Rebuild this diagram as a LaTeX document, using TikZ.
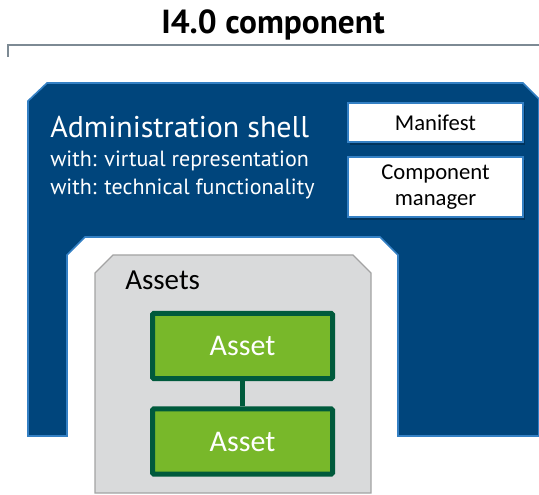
\documentclass[tikz,border=0pt]{standalone}
\usepackage{fontspec}
\setmainfont{PT Sans}
\newfontfamily\carl{Carlito}
\definecolor{shellblue}{RGB}{0,69,124}
\definecolor{shelledge}{RGB}{52,128,196}
\definecolor{brackgray}{RGB}{125,138,148}
\definecolor{assetfill}{RGB}{120,184,42}
\definecolor{assetedge}{RGB}{0,90,60}
\definecolor{boxgray}{RGB}{217,218,219}
\definecolor{boxedge}{RGB}{163,163,163}
\begin{document}
\begin{tikzpicture}[x=0.75pt,y=-0.75pt,
  txt/.style={inner sep=0pt,anchor=base west},
  infobox/.style={draw=shelledge,line width=1.2pt,fill=white,minimum width=131.25pt,inner sep=0pt,font=\carl\fontsize{17}{19}\selectfont,align=center},
  assetbox/.style={draw=assetedge,line width=3.75pt,fill=assetfill,rounded corners=1pt,minimum width=135pt,minimum height=49pt,inner sep=0pt,text=white,font=\carl\fontsize{22.5}{24}\selectfont},
  link/.style={draw=assetedge,line width=3.75pt}]
\useasboundingbox (0,0) rectangle (539,495);
% title and bracket
\node[inner sep=0pt,anchor=base] (title) at (273,34) {\fontsize{25}{27}\selectfont\bfseries I4.0 component};
\draw[brackgray,line width=1.5pt] (8,57) -- (8,45) -- (539,45);
% administration shell shape
\draw[fill=shellblue,draw=shelledge,line width=1.2pt]
  (47,83) -- (523,83) -- (539,99) -- (539,436) -- (398,436) -- (398,255) -- (380,237)
  -- (85,237) -- (67,255) -- (67,436) -- (28,436) -- (28,101) -- cycle;
\node[txt,text=white] (shell) at (50,138) {\fontsize{22.5}{24}\selectfont Administration shell};
\node[txt,text=white] (w1) at (50,167) {\fontsize{16.5}{18}\selectfont with: virtual representation};
\node[txt,text=white] (w2) at (50,195) {\fontsize{16.5}{18}\selectfont with: technical functionality};
% manifest and component manager
\fill[black,opacity=0.25] (350,106) rectangle (525,145);
\fill[black,opacity=0.25] (350,160) rectangle (525,220);
\node[infobox,minimum height=29.25pt] (manifest) at (435.5,122.5) {Manifest};
\node[infobox,minimum height=45pt] (manager) at (435.5,187) {Component\\manager};
% assets box
\draw[fill=boxgray,draw=boxedge,line width=1pt]
  (113,255) -- (353,255) -- (371,273) -- (371,493) -- (95,493) -- (95,273) -- cycle;
\node[txt] (assets) at (125,290) {\carl\fontsize{21.75}{24}\selectfont Assets};
\node[assetbox] (a1) at (242.5,346) {Asset};
\node[assetbox] (a2) at (242.5,441.5) {Asset};
\draw[link] (a1.south) -- (a2.north);
\end{tikzpicture}
\end{document}
